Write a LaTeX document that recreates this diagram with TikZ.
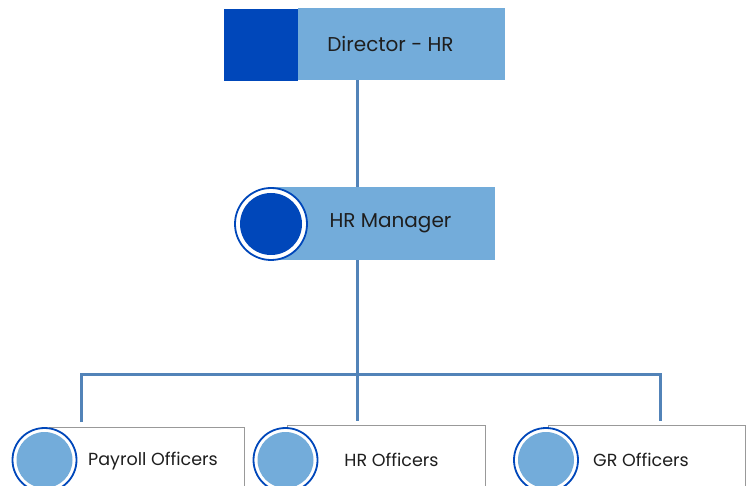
\documentclass[tikz,border=0pt]{standalone}
\usepackage{fontspec}
\setmainfont{Poppins}
\usepackage{tikz}
\usetikzlibrary{positioning}

\definecolor{hrdark}{HTML}{0047BA}
\definecolor{hrlight}{HTML}{73ACDA}
\definecolor{hrline}{HTML}{5283B8}
\definecolor{hrtext}{HTML}{1E1E1E}

\begin{document}
\begin{tikzpicture}[
    x=1pt, y=-1pt,
    headbox/.style={rectangle, fill=hrlight, inner sep=0pt, text=hrtext, font=\fontsize{20}{24}\selectfont},
    tagbox/.style={rectangle, fill=hrdark, minimum width=74pt, minimum height=72pt, inner sep=0pt},
    bigdot/.style={circle, fill=white, draw=hrdark, line width=1.8pt, minimum size=72pt, inner sep=0pt,
        path picture={\fill[hrdark] (path picture bounding box.center) circle (31pt);}},
    staffbox/.style={rectangle, draw=gray!80, line width=1pt, fill=white, minimum width=195pt, minimum height=68pt,
        inner sep=0pt, text=hrtext, font=\fontsize{17.5}{21}\selectfont},
    smalldot/.style={circle, fill=white, draw=hrdark, line width=1.8pt, minimum size=64pt, inner sep=0pt,
        path picture={\fill[hrlight] (path picture bounding box.center) circle (28pt);}},
    link/.style={draw=hrline, line width=3pt}
]
\useasboundingbox (0,0) rectangle (749,486);

% top level
\node[headbox, minimum width=207pt, minimum height=72pt] (dir) at (401.5,44) {Director - HR\kern22pt};
\node[tagbox, left=0pt of dir, yshift=-1.5pt] (dirtag) {};

% manager
\node[headbox, minimum width=223pt, minimum height=73pt] (mgr) at (383.5,223.5) {\hspace{14pt}HR Manager};
\node[bigdot] (mgrdot) at (271,224) {};

% staff
\node[staffbox, anchor=north west] (payroll) at (49,427) {\hspace{12pt}Payroll Officers};
\node[staffbox, minimum width=198pt, anchor=north west] (hroff) at (287,425) {\hspace{10pt}HR Officers};
\node[staffbox, minimum width=197pt, anchor=north west] (groff) at (548,425) {\hspace{-12pt}GR Officers};
\node[smalldot] (payrolldot) at (44.5,460) {};
\node[smalldot] (hroffdot) at (285.5,460) {};
\node[smalldot] (groffdot) at (546,460) {};

% connectors
\coordinate (hub) at (357,374);
\coordinate (leftdrop) at (81,422);
\coordinate (middrop) at (357,421);
\coordinate (rightdrop) at (660,421);
\draw[link] (hub |- dir.south) -- (hub |- mgr.north);
\draw[link] (hub |- mgr.south) -- (hub);
\draw[link] (leftdrop) |- (hub) -| (rightdrop);
\draw[link] (hub) -- (middrop);
\end{tikzpicture}
\end{document}
